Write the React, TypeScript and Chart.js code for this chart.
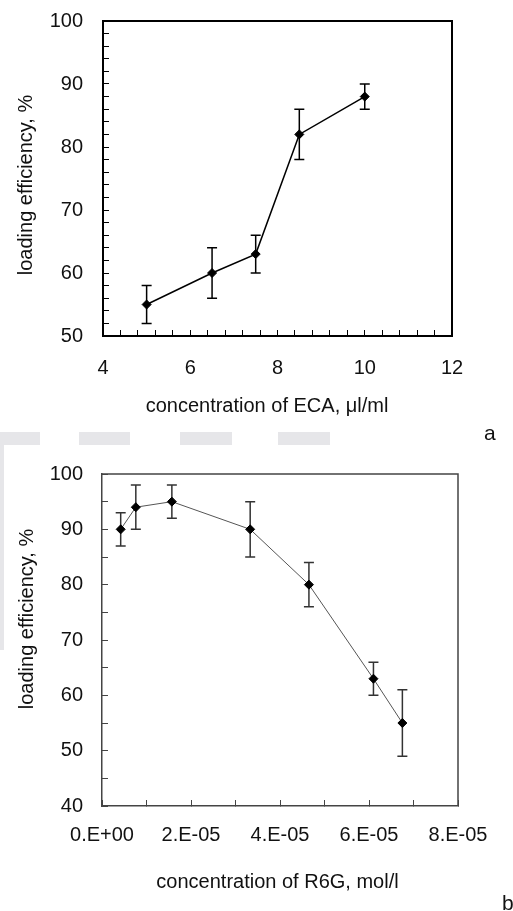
import React, { useEffect, useRef } from 'react';
import { Chart, registerables } from 'chart.js';

Chart.register(...registerables);

const FONT = "'Liberation Sans', Arial, Helvetica, sans-serif";

// ---- Panel a: loading efficiency vs ECA concentration ----
const ecaConcentration = [5, 6.5, 7.5, 8.5, 10];
const ecaEfficiency = [55, 60, 63, 82, 88];
const ecaError = [3, 4, 3, 4, 2];
const ecaXTickLabels = ['4', '6', '8', '10', '12'];
const ecaYTickLabels = ['50', '60', '70', '80', '90', '100'];

// ---- Panel b: loading efficiency vs R6G concentration ----
const r6gConcentration = [4.2e-6, 7.6e-6, 1.57e-5, 3.33e-5, 4.65e-5, 6.1e-5, 6.75e-5];
const r6gEfficiency = [90, 94, 95, 90, 80, 63, 55];
const r6gError = [3, 4, 3, 5, 4, 3, 6];
const r6gXTickLabels = ['0.E+00', '2.E-05', '4.E-05', '6.E-05', '8.E-05'];
const r6gYTickLabels = ['40', '50', '60', '70', '80', '90', '100'];

const yTitleText = 'loading efficiency, %';
const xTitleA = 'concentration of ECA, \u03bcl/ml';
const xTitleB = 'concentration of R6G, mol/l';

const errorBarPlugin = {
  id: 'errorBars',
  beforeDatasetsDraw(chart: any, _args: any, opts: any) {
    const { ctx } = chart;
    const xs = chart.scales.x;
    const ys = chart.scales.y;
    const ds = chart.data.datasets[0];
    ctx.save();
    ctx.strokeStyle = opts.color;
    ctx.lineWidth = opts.width;
    ds.data.forEach((p: any, i: number) => {
      const e = opts.errors[i];
      const px = xs.getPixelForValue(p.x);
      const top = ys.getPixelForValue(p.y + e);
      const bot = ys.getPixelForValue(p.y - e);
      ctx.beginPath();
      ctx.moveTo(px, top);
      ctx.lineTo(px, bot);
      ctx.moveTo(px - opts.cap, top);
      ctx.lineTo(px + opts.cap, top);
      ctx.moveTo(px - opts.cap, bot);
      ctx.lineTo(px + opts.cap, bot);
      ctx.stroke();
    });
    ctx.restore();
  },
};

const framePlugin = {
  id: 'frame',
  afterDraw(chart: any, _args: any, opts: any) {
    const { ctx, chartArea: a } = chart;
    ctx.save();
    ctx.strokeStyle = opts.color;
    ctx.lineWidth = opts.width;
    ctx.beginPath();
    ctx.moveTo(a.left, a.top);
    ctx.lineTo(a.right, a.top);
    ctx.lineTo(a.right, a.bottom);
    ctx.stroke();
    ctx.restore();
  },
};

const axisTitlePlugin = {
  id: 'axisTitles',
  afterDraw(chart: any, _args: any, opts: any) {
    const { ctx } = chart;
    ctx.save();
    ctx.fillStyle = opts.color;
    ctx.font = `${opts.size}px ${FONT}`;
    ctx.textAlign = 'center';
    ctx.textBaseline = 'middle';
    ctx.fillText(opts.x.text, opts.x.cx, opts.x.cy);
    ctx.translate(opts.y.cx, opts.y.cy);
    ctx.rotate(-Math.PI / 2);
    ctx.fillText(opts.y.text, 0, 0);
    ctx.restore();
  },
};

type PanelProps = {
  top: number;
  height: number;
  xs: number[];
  ys: number[];
  errs: number[];
  xMin: number;
  xMax: number;
  xStep: number;
  xEvery: number;
  xLabels: string[];
  yMin: number;
  yMax: number;
  yStep: number;
  yEvery: number;
  yLabels: string[];
  padTop: number;
  padRight: number;
  yWidth: number;
  xHeight: number;
  frameColor: string;
  frameWidth: number;
  lineColor: string;
  lineWidth: number;
  barColor: string;
  barWidth: number;
  xTickPad: number;
  yTickPad: number;
  xTitle: { text: string; cx: number; cy: number };
  yTitle: { text: string; cx: number; cy: number };
};

function zeroPadding(s: any) {
  s.paddingTop = 0;
  s.paddingBottom = 0;
  s.paddingLeft = 0;
  s.paddingRight = 0;
}

function Panel(p: PanelProps) {
  const ref = useRef<HTMLCanvasElement | null>(null);
  useEffect(() => {
    if (!ref.current) return;
    const chart = new Chart(ref.current, {
      type: 'line',
      data: {
        datasets: [
          {
            data: p.xs.map((x, i) => ({ x, y: p.ys[i] })),
            borderColor: p.lineColor,
            borderWidth: p.lineWidth,
            pointStyle: 'rectRot',
            pointRadius: 4.5,
            pointBorderWidth: 1,
            pointBackgroundColor: '#000',
            pointBorderColor: '#000',
            tension: 0,
            fill: false,
          },
        ],
      },
      options: {
        responsive: false,
        animation: false,
        events: [],
        layout: { padding: { top: p.padTop, right: p.padRight, left: 0, bottom: 0 } },
        plugins: {
          legend: { display: false },
          tooltip: { enabled: false },
          errorBars: { errors: p.errs, color: p.barColor, width: p.barWidth, cap: 5 },
          frame: { color: p.frameColor, width: p.frameWidth },
          axisTitles: { color: '#111', size: 20, x: p.xTitle, y: p.yTitle },
        } as any,
        scales: {
          x: {
            type: 'linear',
            min: p.xMin,
            max: p.xMax,
            afterFit: (s: any) => {
              s.height = p.xHeight;
              zeroPadding(s);
            },
            ticks: {
              stepSize: p.xStep,
              autoSkip: false,
              maxRotation: 0,
              minRotation: 0,
              padding: p.xTickPad,
              color: '#111',
              font: { family: FONT, size: 20 },
              callback: (_v: any, i: number) => (i % p.xEvery === 0 ? p.xLabels[i / p.xEvery] : ''),
            },
            grid: {
              drawOnChartArea: false,
              drawTicks: true,
              tickLength: -6,
              color: p.frameColor,
              lineWidth: 1,
            },
            border: { display: true, color: p.frameColor, width: p.frameWidth },
          },
          y: {
            type: 'linear',
            min: p.yMin,
            max: p.yMax,
            afterFit: (s: any) => {
              s.width = p.yWidth;
              zeroPadding(s);
            },
            ticks: {
              stepSize: p.yStep,
              autoSkip: false,
              padding: p.yTickPad,
              color: '#111',
              font: { family: FONT, size: 20 },
              callback: (_v: any, i: number) => (i % p.yEvery === 0 ? p.yLabels[i / p.yEvery] : ''),
            },
            grid: {
              drawOnChartArea: false,
              drawTicks: true,
              tickLength: -6,
              color: p.frameColor,
              lineWidth: 1,
            },
            border: { display: true, color: p.frameColor, width: p.frameWidth },
          },
        },
      } as any,
      plugins: [errorBarPlugin, framePlugin, axisTitlePlugin],
    });
    return () => chart.destroy();
  }, []);
  return (
    <canvas
      ref={ref}
      width={513}
      height={p.height}
      style={{ position: 'absolute', left: 0, top: p.top, display: 'block' }}
    />
  );
}

const wm = '#e6e6e9';

export default function App() {
  return (
    <div
      style={{
        position: 'absolute',
        left: 0,
        top: 0,
        width: 513,
        height: 911,
        background: '#fff',
        overflow: 'hidden',
        fontFamily: FONT,
      }}
    >
      <div style={{ position: 'absolute', left: 0, top: 432, width: 40, height: 13, background: wm }} />
      <div style={{ position: 'absolute', left: 79, top: 432, width: 51, height: 13, background: wm }} />
      <div style={{ position: 'absolute', left: 180, top: 432, width: 52, height: 13, background: wm }} />
      <div style={{ position: 'absolute', left: 278, top: 432, width: 52, height: 13, background: wm }} />
      <div style={{ position: 'absolute', left: 0, top: 445, width: 4, height: 205, background: wm }} />
      <Panel
        top={0}
        height={430}
        xs={ecaConcentration}
        ys={ecaEfficiency}
        errs={ecaError}
        xMin={4}
        xMax={12}
        xStep={0.4}
        xEvery={5}
        xLabels={ecaXTickLabels}
        yMin={50}
        yMax={100}
        yStep={2}
        yEvery={5}
        yLabels={ecaYTickLabels}
        padTop={21}
        padRight={61}
        yWidth={103}
        xHeight={94}
        frameColor="#000"
        frameWidth={2}
        lineColor="#000"
        lineWidth={1.5}
        barColor="#000"
        barWidth={1.5}
        xTickPad={26}
        yTickPad={26}
        xTitle={{ text: xTitleA, cx: 267, cy: 406 }}
        yTitle={{ text: yTitleText, cx: 26.5, cy: 185 }}
      />
      <Panel
        top={440}
        height={471}
        xs={r6gConcentration}
        ys={r6gEfficiency}
        errs={r6gError}
        xMin={0}
        xMax={8e-5}
        xStep={1e-5}
        xEvery={2}
        xLabels={r6gXTickLabels}
        yMin={40}
        yMax={100}
        yStep={5}
        yEvery={2}
        yLabels={r6gYTickLabels}
        padTop={34}
        padRight={55}
        yWidth={102}
        xHeight={105}
        frameColor="#444"
        frameWidth={1.5}
        lineColor="#555"
        lineWidth={1}
        barColor="#333"
        barWidth={1.5}
        xTickPad={23}
        yTickPad={25}
        xTitle={{ text: xTitleB, cx: 277.5, cy: 442 }}
        yTitle={{ text: yTitleText, cx: 27.5, cy: 179 }}
      />
      <span style={{ position: 'absolute', left: 484, top: 422, fontSize: 21, lineHeight: '21px', color: '#111' }}>a</span>
      <span style={{ position: 'absolute', left: 502, top: 892, fontSize: 21, lineHeight: '21px', color: '#111' }}>b</span>
    </div>
  );
}
